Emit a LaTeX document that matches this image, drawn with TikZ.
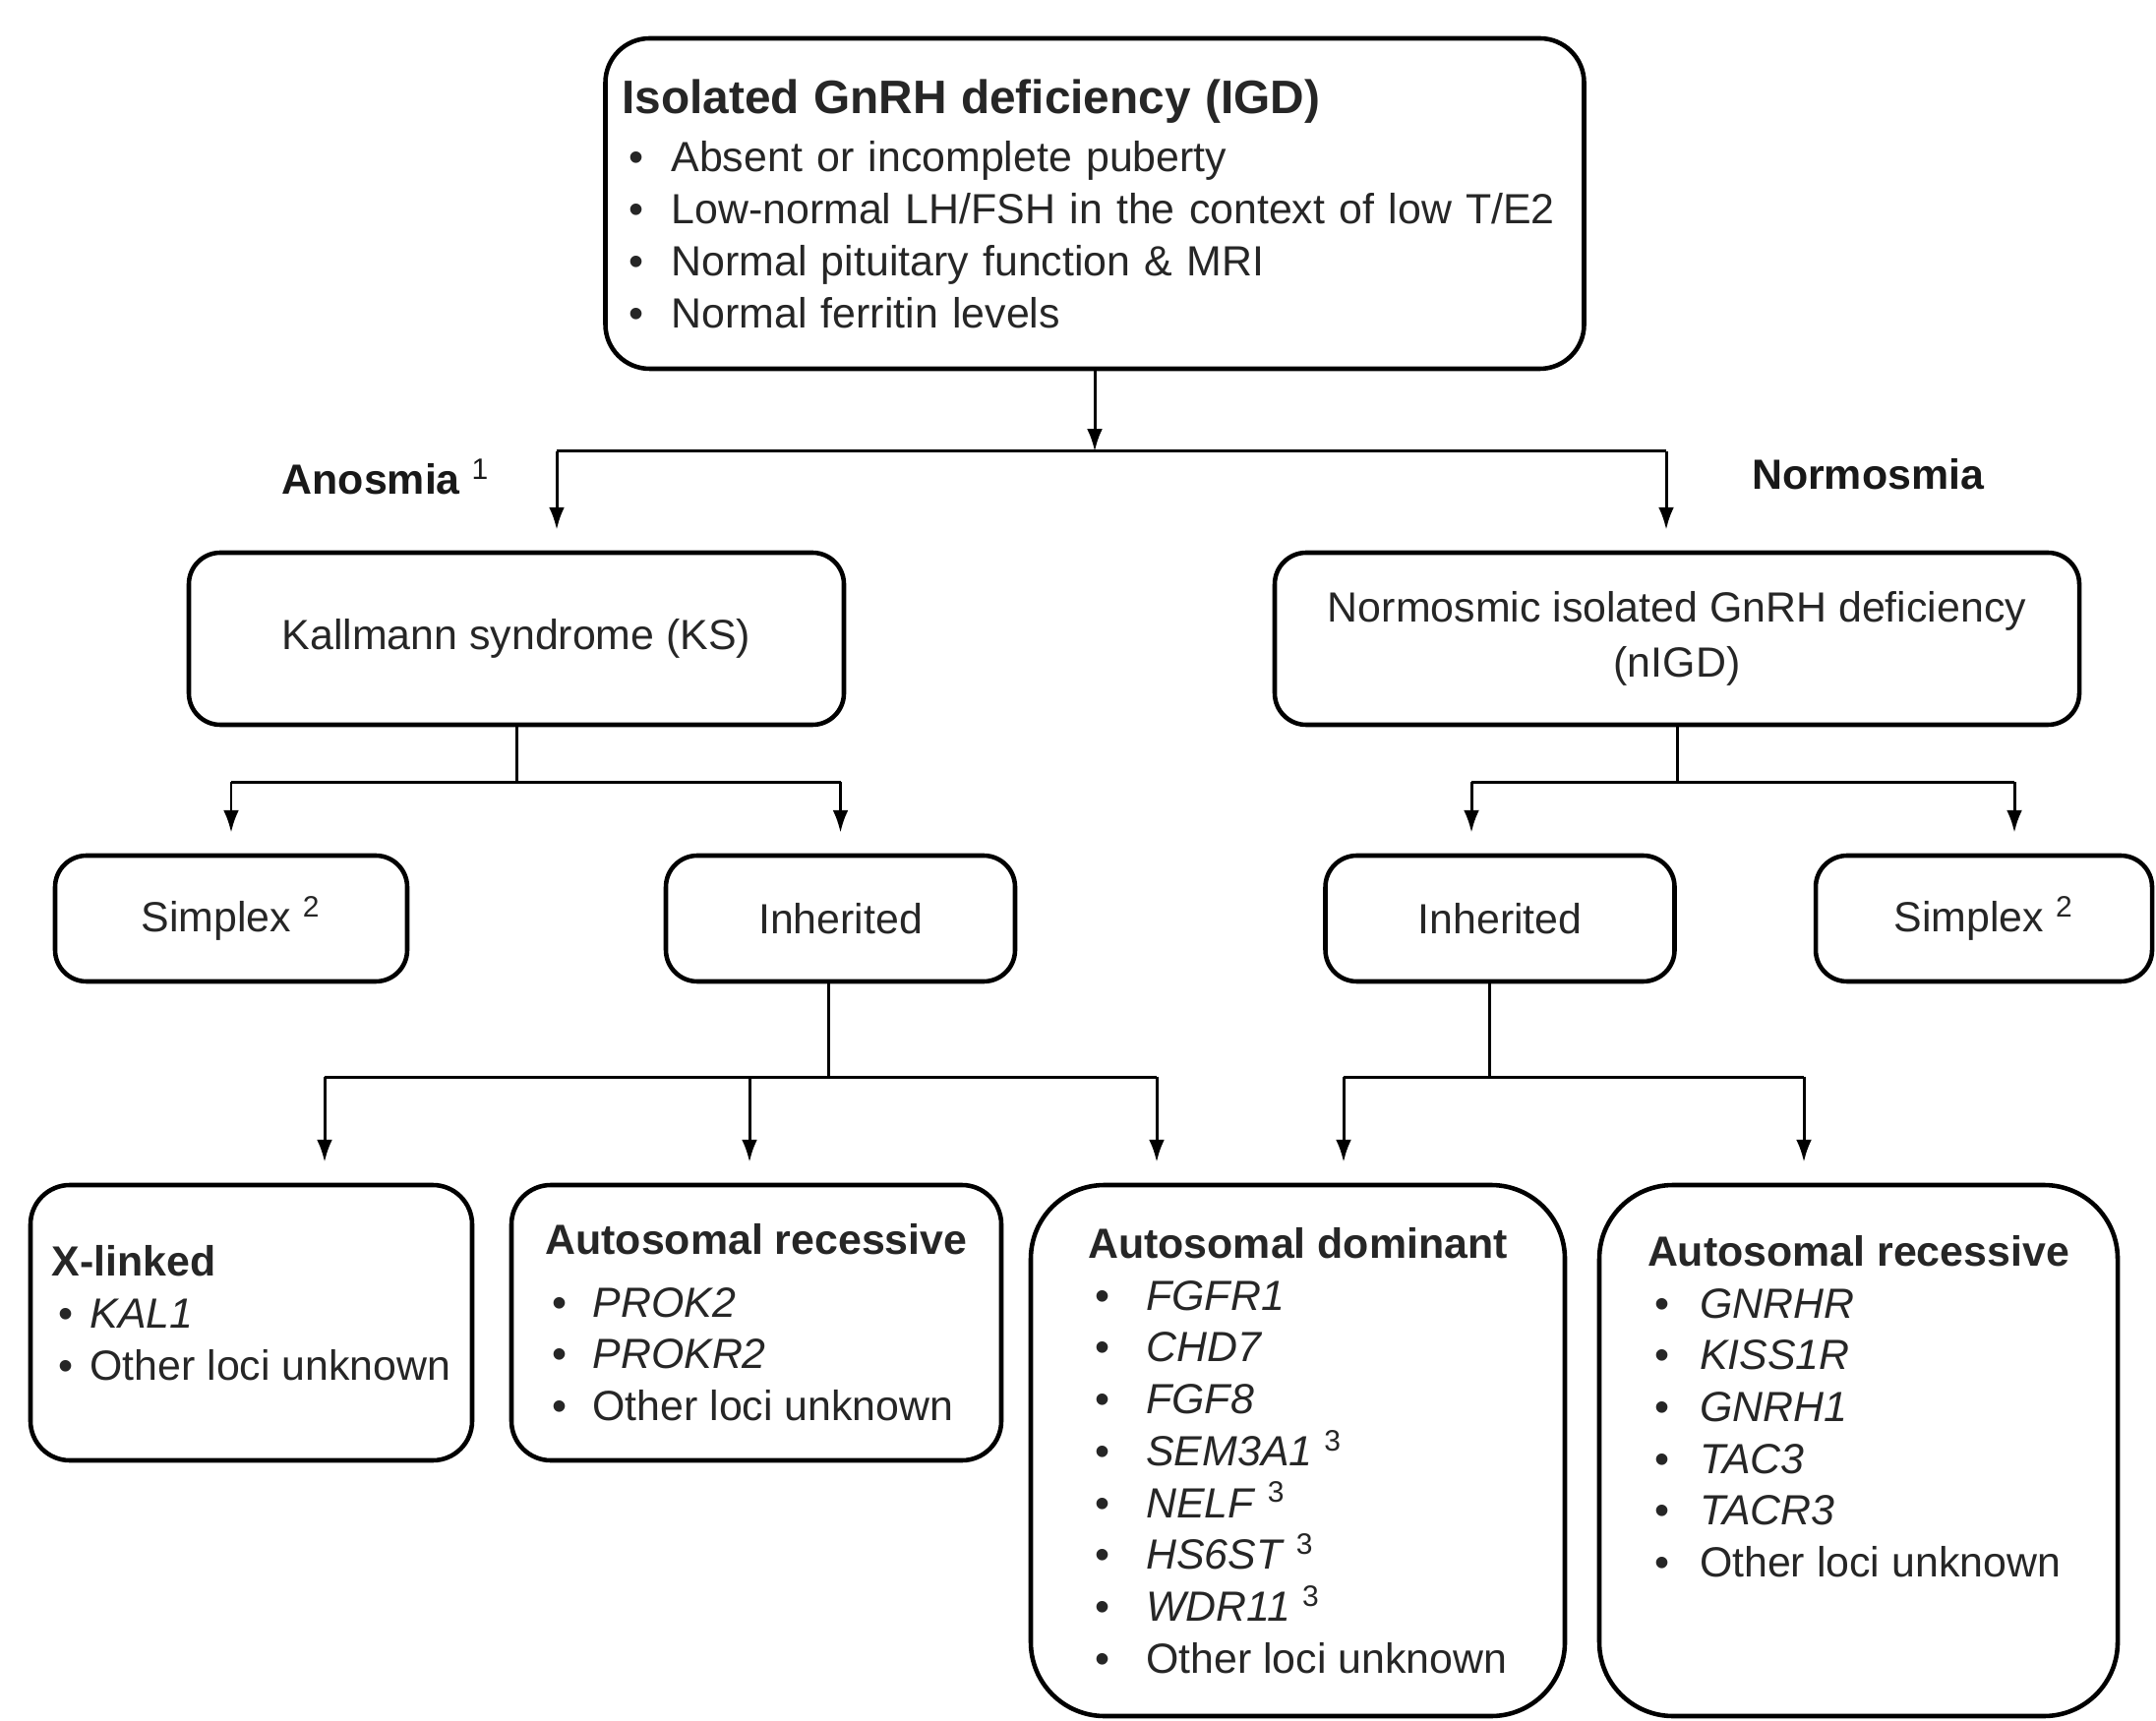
\documentclass[tikz,border=0pt]{standalone}
\usepackage{fontspec}
\setmainfont{Liberation Sans}
\usepackage{xcolor}
\usepackage{tikz}
\usetikzlibrary{shapes, arrows.meta, positioning, calc}

\begin{document}
\begin{tikzpicture}[
        box/.style={draw, line width=1.3pt, rounded corners=0.32cm, inner sep=0pt, text=black!85, font=\fontsize{12.2}{15}\selectfont},
        conn/.style={line width=0.85pt},
        arr/.style={line width=0.85pt, -{Latex[length=6.5pt, width=4.5pt]}},
        gap/.style={shorten >=0.21cm},
        tag/.style={font=\bfseries\fontsize{12.2}{15}\selectfont, text=black!90, inner sep=0pt}
    ]
        \newcommand{\Bul}[1]{\makebox[#1][l]{\,\textbullet}}

        \useasboundingbox (0,0) rectangle (21.92,17.49);

        \coordinate (hbar) at (11.13,12.90);
        \coordinate (pL) at (5.66,0);
        \coordinate (pR) at (16.94,0);
        \coordinate (qL) at (14.96,0);
        \coordinate (qR) at (20.48,0);
        \coordinate (r1) at (3.30,0);
        \coordinate (r2) at (7.62,0);
        \coordinate (r3) at (11.76,0);
        \coordinate (r4) at (13.66,0);
        \coordinate (r5) at (18.34,0);

        \node[box, rounded corners=0.45cm, minimum width=9.95cm, minimum height=3.36cm, inner xsep=0.17cm, text width=9.61cm, align=left] (igd) at (11.13,15.42)
            {{\bfseries\fontsize{13.6}{17}\selectfont Isolated GnRH deficiency (IGD)}\\[2pt]
            \Bul{0.5cm}Absent or incomplete puberty\\
            \Bul{0.5cm}Low-normal LH/FSH in the context of low T/E2\\
            \Bul{0.5cm}Normal pituitary function \& MRI\\
            \Bul{0.5cm}Normal ferritin levels};

        \node[tag, anchor=west] (anos) at (2.86,12.64) {Anosmia \textsuperscript{\mdseries 1}};
        \node[tag] (normos) at (18.99,12.67) {Normosmia};

        \node[box, minimum width=6.66cm, minimum height=1.75cm] (ks) at (5.25,10.995) {Kallmann syndrome (KS)};
        \node[box, minimum width=8.18cm, minimum height=1.75cm, align=center, font=\fontsize{12.2}{16}\selectfont] (nigd) at (17.05,10.995)
            {Normosmic isolated GnRH deficiency\\(nIGD)};

        \node[box, minimum width=3.58cm, minimum height=1.28cm] (simpL) at (2.35,8.15) {Simplex \textsuperscript{2}};
        \node[box, minimum width=3.55cm, minimum height=1.28cm] (inhL) at (8.545,8.15) {Inherited};
        \node[box, minimum width=3.55cm, minimum height=1.28cm] (inhR) at (15.25,8.15) {Inherited};
        \node[box, minimum width=3.42cm, minimum height=1.28cm] (simpR) at (20.17,8.15) {Simplex \textsuperscript{2}};

        \node[box, rounded corners=0.4cm, minimum width=4.49cm, minimum height=2.8cm, align=left] (xl) at (2.555,4.04)
            {\textbf{X-linked}\\
            \Bul{0.39cm}\textit{KAL1}\\
            \Bul{0.39cm}Other loci unknown\rule[-0.2cm]{0pt}{0pt}};
        \node[box, rounded corners=0.4cm, minimum width=4.98cm, minimum height=2.8cm, align=left] (arL) at (7.69,4.04)
            {\textbf{Autosomal recessive}\\[3pt]
            \Bul{0.48cm}\textit{PROK2}\\
            \Bul{0.48cm}\textit{PROKR2}\\
            \Bul{0.48cm}Other loci unknown};
        \node[box, rounded corners=0.75cm, minimum width=5.43cm, minimum height=5.4cm, align=left] (ad) at (13.195,2.74)
            {\textbf{Autosomal dominant}\\
            \Bul{0.59cm}\textit{FGFR1}\\
            \Bul{0.59cm}\textit{CHD7}\\
            \Bul{0.59cm}\textit{FGF8}\\
            \Bul{0.59cm}\textit{SEM3A1} \textsuperscript{3}\\
            \Bul{0.59cm}\textit{NELF} \textsuperscript{3}\\
            \Bul{0.59cm}\textit{HS6ST} \textsuperscript{3}\\
            \Bul{0.59cm}\textit{WDR11} \textsuperscript{3}\\
            \Bul{0.59cm}Other loci unknown};
        \node[box, rounded corners=0.75cm, minimum width=5.27cm, minimum height=5.4cm, align=left] (arR) at (18.895,2.74)
            {\textbf{Autosomal recessive}\\
            \Bul{0.53cm}\textit{GNRHR}\\
            \Bul{0.53cm}\textit{KISS1R}\\
            \Bul{0.53cm}\textit{GNRH1}\\
            \Bul{0.53cm}\textit{TAC3}\\
            \Bul{0.53cm}\textit{TACR3}\\
            \Bul{0.53cm}Other loci unknown\rule[-0.9cm]{0pt}{0pt}};

        % IGD split
        \draw[arr] (igd.south) -- (igd.south |- hbar);
        \draw[conn] (pL |- hbar) -- (pR |- hbar);
        \draw[arr, gap] (pL |- hbar) -- (pL |- ks.north);
        \draw[arr, gap] (pR |- hbar) -- (pR |- nigd.north);

        % KS split
        \draw[conn] (ks.south) -- ++(0,-0.56) coordinate (ksbar);
        \draw[conn] (simpL.north |- ksbar) -- (inhL.north |- ksbar);
        \draw[arr, gap] (simpL.north |- ksbar) -- (simpL.north);
        \draw[arr, gap] (inhL.north |- ksbar) -- (inhL.north);

        % nIGD split
        \draw[conn] (nigd.south) -- ++(0,-0.56) coordinate (nbar);
        \draw[conn] (qL |- nbar) -- (qR |- nbar);
        \draw[arr, gap] (qL |- nbar) -- (qL |- inhR.north);
        \draw[arr, gap] (qR |- nbar) -- (qR |- simpR.north);

        % inherited, anosmic
        \draw[conn] ($(inhL.south)+(-0.12,0)$) -- ++(0,-0.95) coordinate (ibar);
        \draw[conn] (r1 |- ibar) -- (r3 |- ibar);
        \draw[arr, gap] (r1 |- ibar) -- (r1 |- xl.north);
        \draw[arr, gap] (r2 |- ibar) -- (r2 |- arL.north);
        \draw[arr, gap] (r3 |- ibar) -- (r3 |- ad.north);

        % inherited, normosmic
        \draw[conn] ($(inhR.south)+(-0.11,0)$) -- ++(0,-0.95) coordinate (jbar);
        \draw[conn] (r4 |- jbar) -- (r5 |- jbar);
        \draw[arr, gap] (r4 |- jbar) -- (r4 |- ad.north);
        \draw[arr, gap] (r5 |- jbar) -- (r5 |- arR.north);
    \end{tikzpicture}
\end{document}
